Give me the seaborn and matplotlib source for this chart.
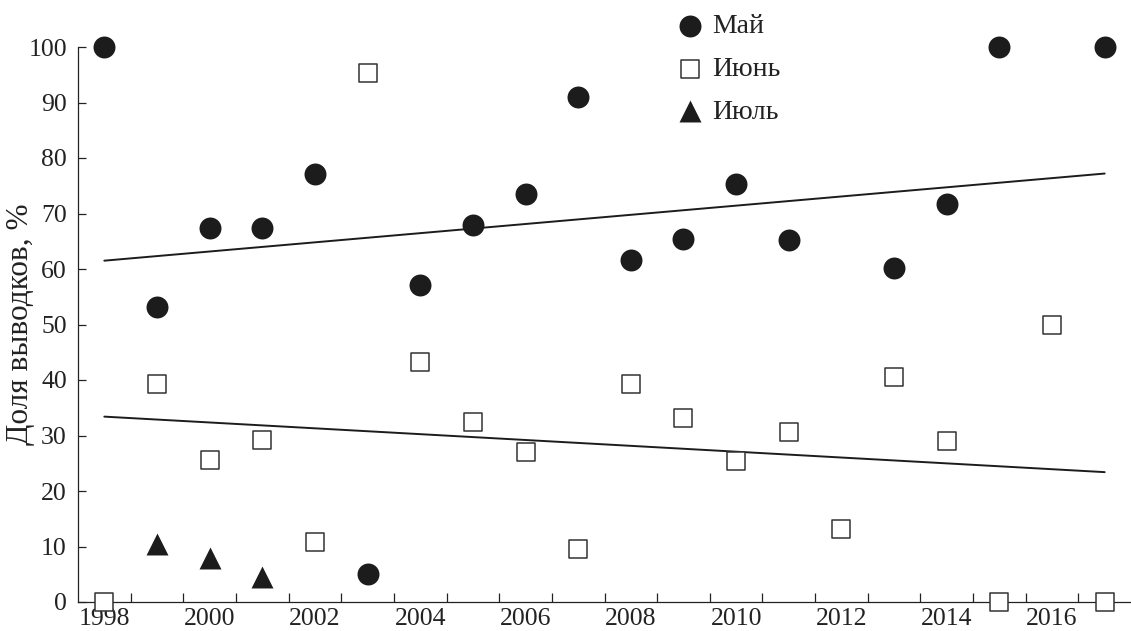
import numpy as np
import pandas as pd
import matplotlib
matplotlib.use("Agg")
import matplotlib.pyplot as plt
import seaborn as sns

# Share of broods by month of hatching, %
may_years = [1998, 1999, 2000, 2001, 2002, 2003, 2004, 2005, 2006, 2007,
             2008, 2009, 2010, 2011, 2013, 2014, 2015, 2017]
may_values = [100, 53.2, 67.4, 67.4, 77.1, 5.0, 57.1, 67.9, 73.5, 91.0,
              61.6, 65.4, 75.4, 65.2, 60.2, 71.7, 100, 100]

june_years = [1998, 1999, 2000, 2001, 2002, 2003, 2004, 2005, 2006, 2007,
              2008, 2009, 2010, 2011, 2012, 2013, 2014, 2015, 2016, 2017]
june_values = [0, 39.3, 25.5, 29.1, 10.8, 95.4, 43.2, 32.5, 27.1, 9.6,
               39.2, 33.2, 25.4, 30.6, 13.1, 40.6, 29.0, 0, 50.0, 0]

july_years = [1999, 2000, 2001]
july_values = [10.5, 8.0, 4.5]

# Linear trends (values at the first and last year)
trend_years = [1998, 2017]
may_trend = [61.5, 77.2]
june_trend = [33.4, 23.4]

labels = ["Май", "Июнь", "Июль"]
year_ticks = list(range(1998, 2017, 2))
y_ticks = list(range(0, 101, 10))

sns.set_theme(style="ticks")
plt.rcParams["font.family"] = ["Liberation Serif", "DejaVu Serif"]
plt.rcParams["font.size"] = 18

fig = plt.figure(figsize=(11.31, 6.31), dpi=100)
ax = fig.add_axes([78 / 1131, 29 / 631, 1053 / 1131, 555 / 631])

ink = "#1c1c1c"

may_df = pd.DataFrame({"year": may_years, "value": may_values})
june_df = pd.DataFrame({"year": june_years, "value": june_values})
july_df = pd.DataFrame({"year": july_years, "value": july_values})

sns.lineplot(x=trend_years, y=may_trend, ax=ax, color=ink, lw=1.4, zorder=2)
sns.lineplot(x=trend_years, y=june_trend, ax=ax, color=ink, lw=1.4, zorder=2)

sns.scatterplot(data=may_df, x="year", y="value", ax=ax, marker="o", s=250,
                color=ink, edgecolor=ink, linewidth=0, label=labels[0],
                clip_on=False, zorder=3)
sns.scatterplot(data=june_df, x="year", y="value", ax=ax, marker="s", s=185,
                color="white", edgecolor="#333333", linewidth=1.1,
                label=labels[1], clip_on=False, zorder=4)
sns.scatterplot(data=july_df, x="year", y="value", ax=ax, marker="^", s=250,
                color=ink, edgecolor=ink, linewidth=0, label=labels[2],
                clip_on=False, zorder=3)

ax.set_xlim(1997.5, 2017.5)
ax.set_ylim(0, 100)

ax.set_xticks(year_ticks)
ax.set_xticklabels([str(y) for y in year_ticks])
ax.set_xticks(np.arange(1998.5, 2017, 1.0), minor=True)
ax.tick_params(axis="x", which="major", length=0, pad=4.5, labelsize=18.5,
               colors="#222222")
ax.tick_params(axis="x", which="minor", length=6.5, width=0.9,
               direction="in", color="#222222")

ax.set_yticks(y_ticks)
ax.tick_params(axis="y", which="major", length=6, width=0.9, direction="in",
               pad=8, labelsize=18.5, colors="#222222")

for side in ("top", "right"):
    ax.spines[side].set_visible(False)
for side in ("left", "bottom"):
    ax.spines[side].set_linewidth(0.9)
    ax.spines[side].set_color("#222222")

ax.set_xlabel("")
ax.set_ylabel("Доля выводков, %", fontsize=22.5, color="#222222")
ax.yaxis.set_label_coords(-0.041, 0.5)

leg = ax.legend(loc="upper left", bbox_to_anchor=(661 / 1131, 1.0),
                bbox_transform=fig.transFigure, frameon=False, fontsize=20,
                handletextpad=0.25, labelspacing=0.62, borderpad=0.0,
                handlelength=1.1)
for t in leg.get_texts():
    t.set_color("#222222")

fig.savefig("out.png", dpi=100)
